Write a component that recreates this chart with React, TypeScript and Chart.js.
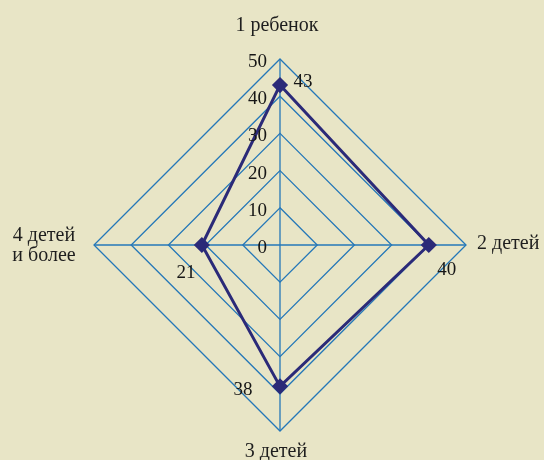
import React, { useEffect, useRef } from "react";
import { Chart, registerables } from "chart.js";

Chart.register(...registerables);

const categories: (string | string[])[] = ["1 ребенок", "2 детей", "3 детей", ["4 детей", "и более"]];
const values: number[] = [43, 40, 38, 21];
const tickValues: number[] = [0, 10, 20, 30, 40, 50];

const BG = "#E8E5C6";
const GRID = "#2477B8";
const LINE = "#2B2A78";
const FONT = "'Liberation Serif', 'DejaVu Serif', serif";

// label offsets relative to each data point (x, y)
const dataLabelOffsets: [number, number][] = [
  [23, -3],
  [18, 25],
  [-37, 4],
  [-16, 28],
];

const labelsPlugin = {
  id: "customLabels",
  afterDraw(chart: any) {
    const ctx = chart.ctx;
    const scale = chart.scales.r;
    const xc = scale.xCenter;
    const yc = scale.yCenter;
    const r = scale.drawingArea;
    ctx.save();
    ctx.fillStyle = "#161616";
    ctx.font = `19px ${FONT}`;
    // tick labels
    ctx.textAlign = "right";
    ctx.textBaseline = "middle";
    tickValues.forEach((v) => {
      const d = scale.getDistanceFromCenterForValue(v);
      ctx.fillText(String(v), xc - 13, yc - d + 3);
    });
    // data labels
    const meta = chart.getDatasetMeta(0);
    ctx.textAlign = "center";
    meta.data.forEach((pt: any, i: number) => {
      const [dx, dy] = dataLabelOffsets[i];
      ctx.fillText(String(values[i]), pt.x + dx, pt.y + dy);
    });
    // point labels
    ctx.font = `20px ${FONT}`;
    ctx.fillStyle = "#1e1e1e";
    const lbl = (i: number) => categories[i];
    ctx.textAlign = "center";
    ctx.fillText(lbl(0) as string, xc - 3, yc - r - 33);
    ctx.textAlign = "left";
    ctx.fillText(lbl(1) as string, xc + r + 11, yc - 1);
    ctx.textAlign = "center";
    ctx.fillText(lbl(2) as string, xc - 4, yc + r + 21);
    const l3 = lbl(3) as string[];
    l3.forEach((t, k) => {
      ctx.fillText(t, xc - r - 50, yc - 9 + k * 20);
    });
    ctx.restore();
  },
};

export default function App() {
  const ref = useRef<HTMLCanvasElement>(null);
  useEffect(() => {
    if (!ref.current) return;
    const chart = new Chart(ref.current, {
      type: "radar",
      data: {
        labels: categories,
        datasets: [
          {
            data: values,
            borderColor: LINE,
            backgroundColor: "transparent",
            borderWidth: 3,
            pointStyle: "rectRot",
            pointRadius: 6,
            pointBackgroundColor: LINE,
            pointBorderColor: LINE,
            fill: false,
          },
        ],
      },
      options: {
        responsive: false,
        animation: false,
        layout: { padding: { top: 59, bottom: 29, left: 94, right: 78 } },
        plugins: { legend: { display: false }, tooltip: { enabled: false } },
        scales: {
          r: {
            min: 0,
            max: 50,
            ticks: { stepSize: 10, display: false },
            grid: { color: GRID, lineWidth: 1.3 },
            angleLines: { color: GRID, lineWidth: 1.3 },
            pointLabels: { display: false },
          },
        },
      },
      plugins: [labelsPlugin],
    });
    return () => chart.destroy();
  }, []);
  return (
    <div style={{ position: "fixed", left: 0, top: 0, width: 544, height: 460, background: BG }}>
      <canvas ref={ref} width={544} height={460} style={{ width: 544, height: 460 }} />
    </div>
  );
}
